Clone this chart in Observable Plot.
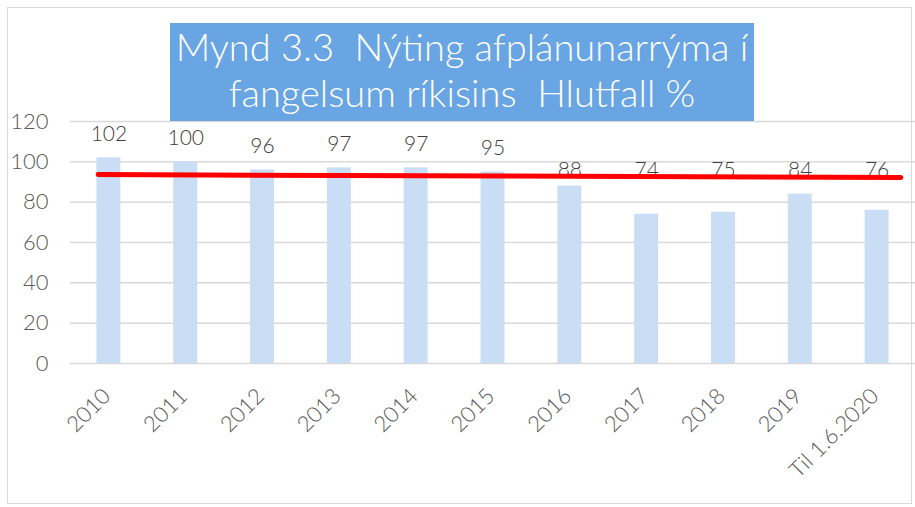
<!DOCTYPE html>
<html>
<head>
<meta charset="utf-8">
<script src="https://cdn.jsdelivr.net/npm/d3@7"></script>
<script src="https://cdn.jsdelivr.net/npm/@observablehq/plot@0.6"></script>
<style>
  html, body { margin: 0; padding: 0; background: #fff; }
  #wrap { position: relative; width: 915px; height: 507px; overflow: hidden; }
  #frame { position: absolute; left: 7px; top: 7px; width: 905px; height: 497px;
           border: 1.5px solid #d9d9d9; box-sizing: border-box; pointer-events: none; }
  #chart { position: absolute; left: 0; top: 0; }
  #title { position: absolute; left: 170px; top: 23px; width: 584px; height: 98px;
           background: #69a5e3; color: #fff; text-align: center; box-sizing: border-box;
           padding-top: 0px; font-family: Lato, sans-serif; font-weight: 300;
           font-size: 38px; line-height: 46px; white-space: nowrap; }
</style>
</head>
<body>
<div id="wrap">
  <div id="chart"></div>
  <div id="frame"></div>
  <div id="title">Mynd 3.3&nbsp; Nýting afplánunarrýma í<br>fangelsum ríkisins&nbsp; Hlutfall %</div>
</div>
<script>
// ---- data ----
const categories = ["2010", "2011", "2012", "2013", "2014", "2015", "2016", "2017", "2018", "2019", "Til 1.6.2020"];
const values = [102, 100, 96, 97, 97, 95, 88, 74, 75, 84, 76];
const yTicks = [0, 20, 40, 60, 80, 100, 120];
// red reference line: position along the category axis (index units) and value
const trendPos = [-0.14, 10.31];
const trendValues = [93.7, 92.2];

const data = categories.map((c, i) => ({ i, category: c, value: values[i] }));
const trend = trendPos.map((p, k) => ({ p, v: trendValues[k] }));

const font = "Lato, sans-serif";
const halfBar = 0.156;

const chart = Plot.plot({
  width: 915,
  height: 507,
  marginLeft: 70,
  marginRight: 0,
  marginTop: 121,
  marginBottom: 144,
  x: { type: "linear", domain: [-0.5, 10.5], axis: null },
  y: { domain: [0, 120], axis: null },
  style: { fontFamily: font, fontWeight: 300, background: "transparent", overflow: "visible" },
  marks: [
    Plot.gridY(yTicks, { stroke: "#d9d9d9", strokeOpacity: 1, strokeWidth: 1.5 }),
    Plot.rectY(data, { x1: d => d.i - halfBar, x2: d => d.i + halfBar, y: "value", fill: "#c9ddf4" }),
    Plot.axisY(yTicks, { tickSize: 0, tickPadding: 22, fontSize: 22, fill: "#595959", fontWeight: 300, fontFamily: font }),
    Plot.text(data, { x: "i", y: 0, text: "category", rotate: -45, textAnchor: "end",
      dy: 29, dx: -2, fontSize: 22, fill: "#595959", fontWeight: 300, fontFamily: font }),
    Plot.text(data, { x: "i", y: d => d.value >= 90 ? d.value : 84, text: d => String(d.value),
      dy: -24, fontSize: 21, fill: "#404040", fontWeight: 300, fontFamily: font }),
    Plot.line(trend, { x: "p", y: "v", stroke: "#ff0000", strokeWidth: 5 })
  ]
});
document.getElementById("chart").appendChild(chart);
</script>
</body>
</html>
